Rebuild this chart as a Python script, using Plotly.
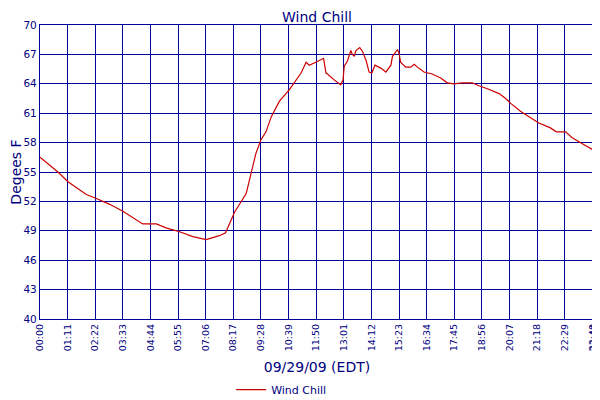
import plotly.graph_objects as go

# minutes after midnight, wind chill in deg F
minutes = [0, 46, 72, 102, 119, 145, 179, 213, 239, 264, 299, 324, 359, 393, 427,
           461, 477, 500, 530, 542, 555, 568, 581, 594, 615, 641, 654, 671, 684,
           692, 709, 718, 729, 735, 739, 756, 773, 779, 782, 790, 795, 799, 803,
           808, 812, 822, 829, 838, 846, 853, 861, 876, 889, 902, 906, 919, 923,
           927, 940, 953, 962, 970, 987, 1008, 1030, 1047, 1064, 1085, 1111, 1128,
           1150, 1180, 1197, 1210, 1235, 1257, 1282, 1312, 1327, 1351, 1368, 1393,
           1420, 1424]
wind_chill = [56.5, 55.0, 54.0, 53.2, 52.7, 52.3, 51.7, 51.0, 50.3, 49.7, 49.7, 49.3,
              48.9, 48.4, 48.1, 48.5, 48.8, 50.9, 52.8, 54.9, 56.9, 58.3, 59.1, 60.6,
              62.2, 63.4, 64.1, 65.1, 66.2, 65.9, 66.2, 66.4, 66.6, 65.1, 65.0, 64.4,
              63.9, 64.4, 65.8, 66.3, 66.8, 67.4, 67.0, 66.8, 67.4, 67.7, 67.3, 66.4,
              65.2, 65.1, 65.9, 65.6, 65.2, 65.9, 66.8, 67.5, 67.1, 66.2, 65.7, 65.7,
              66.0, 65.7, 65.2, 65.0, 64.6, 64.1, 64.0, 64.1, 64.1, 63.8, 63.5, 63.0,
              62.5, 62.0, 61.2, 60.6, 60.0, 59.5, 59.1, 59.1, 58.5, 57.9, 57.3, 57.0]

tick_vals = [0, 71, 142, 213, 284, 355, 426, 497, 568, 639, 710, 781, 852, 923,
             994, 1065, 1136, 1207, 1278, 1349, 1420, 1424]
tick_text = ['00:00', '01:11', '02:22', '03:33', '04:44', '05:55', '07:06', '08:17',
             '09:28', '10:39', '11:50', '13:01', '14:12', '15:23', '16:34', '17:45',
             '18:56', '20:07', '21:18', '22:29', '23:40', '23:44']
y_ticks = [40, 43, 46, 49, 52, 55, 58, 61, 64, 67, 70]

navy = '#000080'
grid = '#00009a'

fig = go.Figure()
fig.add_trace(go.Scatter(
    x=minutes,
    y=wind_chill,
    mode='lines',
    name='Wind Chill',
    line=dict(color='#cc0000', width=1.2))
)

# page body has an 8px margin, so the figure is a bit smaller than the window
fig.update_layout(
    width=592,
    height=392,
    title=dict(text='Wind Chill', xref='paper', x=0.5, xanchor='center',
               yref='paper', y=1, yanchor='bottom', pad=dict(b=3),
               font=dict(size=14, color=navy)),
    font=dict(family='DejaVu Sans', color=navy),
    xaxis=dict(
        range=[0, 1424],
        automargin=False,
        tickvals=tick_vals,
        ticktext=tick_text,
        tickangle=-90,
        tickfont=dict(size=9.5, color=navy),
        ticklabeloverflow='allow',
        showgrid=True,
        gridcolor=grid,
        gridwidth=1.3,
        showline=True,
        linecolor=grid,
        linewidth=1.3,
        mirror=True,
        zeroline=False,
        ticks='',
        title=dict(text='09/29/09 (EDT)', font=dict(size=14, color=navy), standoff=11),
    ),
    yaxis=dict(
        range=[40, 70],
        automargin=False,
        tickvals=y_ticks,
        tickfont=dict(size=10.5, color=navy),
        showgrid=True,
        gridcolor=grid,
        gridwidth=1.3,
        showline=True,
        linecolor=grid,
        linewidth=1.3,
        mirror=True,
        zeroline=False,
        ticks='',
        title=dict(text='Degees F', font=dict(size=14, color=navy), standoff=14),
    ),
    legend=dict(orientation='h', x=0.345, xanchor='left', y=-0.24, yanchor='middle',
                font=dict(size=11, color=navy), itemwidth=30),
    showlegend=True,
    margin=dict(l=32, r=6, t=17, b=81, autoexpand=False),
    paper_bgcolor='white',
    plot_bgcolor='white',
)

fig.write_html('out.html')
